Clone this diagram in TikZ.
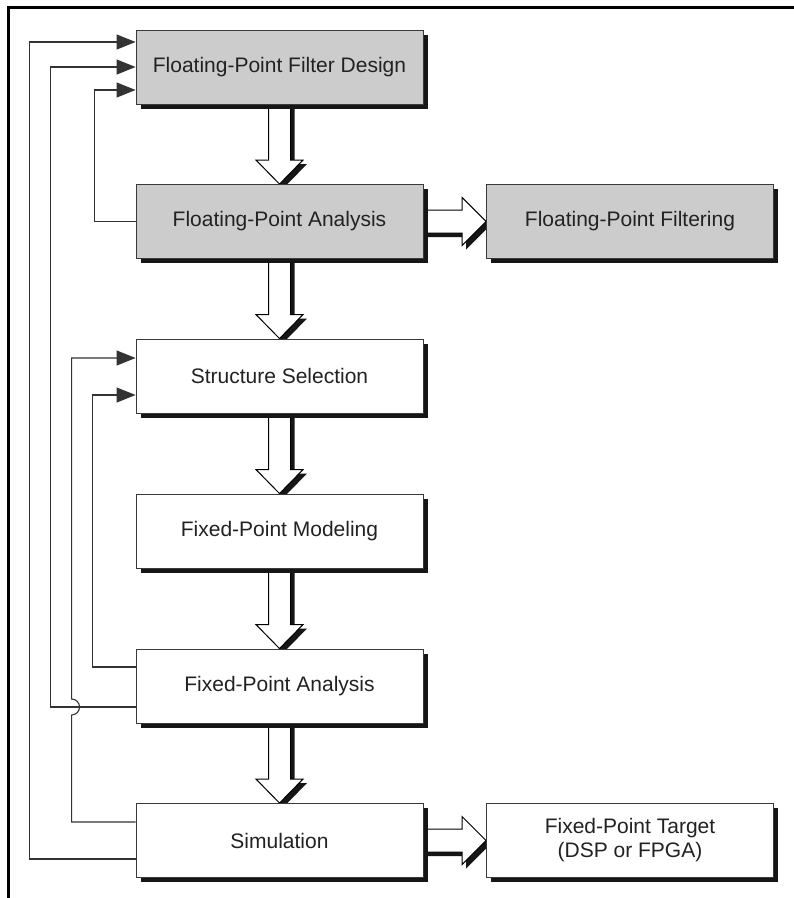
\documentclass[tikz,border=0pt]{standalone}
\usepackage{fontspec}
\setmainfont{Liberation Sans}
\usetikzlibrary{arrows.meta,calc,shadows}
\definecolor{boxgray}{HTML}{CCCCCC}
\definecolor{boxline}{HTML}{3A3A3A}
\definecolor{linegray}{HTML}{333333}
\definecolor{txt}{HTML}{222222}
\definecolor{shadowblk}{HTML}{161616}
\pgfdeclarelayer{bg}
\pgfsetlayers{bg,main}
\newcommand\vblk[2]{%
  \fill[shadowblk] ($(#1.south)+(-7,4)$) -- ($(#2.north)+(-7,-20)$) -- ($(#2.north)+(-19.5,-20)$) -- ($(#2.north)+(4,4)$) -- ($(#2.north)+(27.5,-20)$) -- ($(#2.north)+(15,-20)$) -- ($(#1.south)+(15,4)$) -- cycle;
  \draw[blk] ($(#1.south)+(-11,0)$) -- ($(#2.north)+(-11,-24)$) -- ($(#2.north)+(-23.5,-24)$) -- (#2.north) -- ($(#2.north)+(23.5,-24)$) -- ($(#2.north)+(11,-24)$) -- ($(#1.south)+(11,0)$) -- cycle;}
\newcommand\hblk[2]{%
  \fill[shadowblk] ($(#1.east)+(4,-7.5)$) -- ($(#2.west)+(-20,-7.5)$) -- ($(#2.west)+(-20,-20)$) -- ($(#2.west)+(4,4)$) -- ($(#2.west)+(-20,28)$) -- ($(#2.west)+(-20,15.5)$) -- ($(#1.east)+(4,15.5)$) -- cycle;
  \draw[blk] ($(#1.east)+(0,-11.5)$) -- ($(#2.west)+(-24,-11.5)$) -- ($(#2.west)+(-24,-24)$) -- (#2.west) -- ($(#2.west)+(-24,24)$) -- ($(#2.west)+(-24,11.5)$) -- ($(#1.east)+(0,11.5)$) -- cycle;}
\begin{document}
\begin{tikzpicture}[x=1pt,y=-1pt,
  box/.style={draw=boxline, line width=0.9pt, minimum width=287pt, minimum height=74pt,
    inner sep=0pt, text=txt, font=\fontsize{21}{24}\selectfont, align=center,
    drop shadow={shadow xshift=4.5pt, shadow yshift=-4.5pt, fill=shadowblk, opacity=1}},
  grayfill/.style={box, fill=boxgray},
  whitefill/.style={box, fill=white},
  fb/.style={draw=linegray, line width=1.1pt, -{Triangle[length=19pt,width=15pt]}},
  blk/.style={draw=black, line width=1pt, fill=white, line join=miter}
]
\useasboundingbox (0,0) rectangle (794,898);
% frame
\draw[line width=2.6pt, black] (8.7,898) -- (8.7,7.3) -- (794,7.3);
% boxes
\node[grayfill] (b1) at (279.5,67) {Floating-Point Filter Design};
\node[grayfill] (b2) at (279.5,221.5) {Floating-Point Analysis};
\node[grayfill] (r1) at (630,221.5) {Floating-Point Filtering};
\node[whitefill] (b3) at (279.5,376) {Structure Selection};
\node[whitefill] (b4) at (279.5,531) {Fixed-Point Modeling};
\node[whitefill] (b5) at (279.5,686) {Fixed-Point Analysis};
\node[whitefill] (b6) at (279.5,840.5) {Simulation};
\node[whitefill] (r2) at (630,840.5) {Fixed-Point Target\\(DSP or FPGA)};
% block arrows
\begin{pgfonlayer}{bg}
\fill[white] (0,0) rectangle (794,898);
\vblk{b1}{b2}
\vblk{b2}{b3}
\vblk{b3}{b4}
\vblk{b4}{b5}
\vblk{b5}{b6}
\hblk{b2}{r1}
\hblk{b6}{r2}
\end{pgfonlayer}
% feedback lines
\draw[fb] ($(b6.west)+(0,18.5)$) -- ($(b6.west)+(-106,18.5)$) -- ($(b1.west)+(-106,-25)$) -- ($(b1.west)+(0,-25)$);
\draw[fb] ($(b5.west)+(0,21)$) -- ($(b5.west)+(-85,21)$) -- ($(b1.west)+(-85,0)$) -- (b1.west);
\draw[fb] (b2.west) -- ($(b2.west)+(-41,0)$) -- ($(b1.west)+(-41,23)$) -- ($(b1.west)+(0,23)$);
\draw[fb] ($(b6.west)+(0,-18.5)$) -- ($(b6.west)+(-64,-18.5)$) -- ($(b5.west)+(-64,29)$)
  arc[start angle=90, end angle=-90, radius=8] -- ($(b3.west)+(-64,-18)$) -- ($(b3.west)+(0,-18)$);
\draw[fb] ($(b5.west)+(0,-19)$) -- ($(b5.west)+(-43,-19)$) -- ($(b3.west)+(-43,19)$) -- ($(b3.west)+(0,19)$);
\end{tikzpicture}
\end{document}
